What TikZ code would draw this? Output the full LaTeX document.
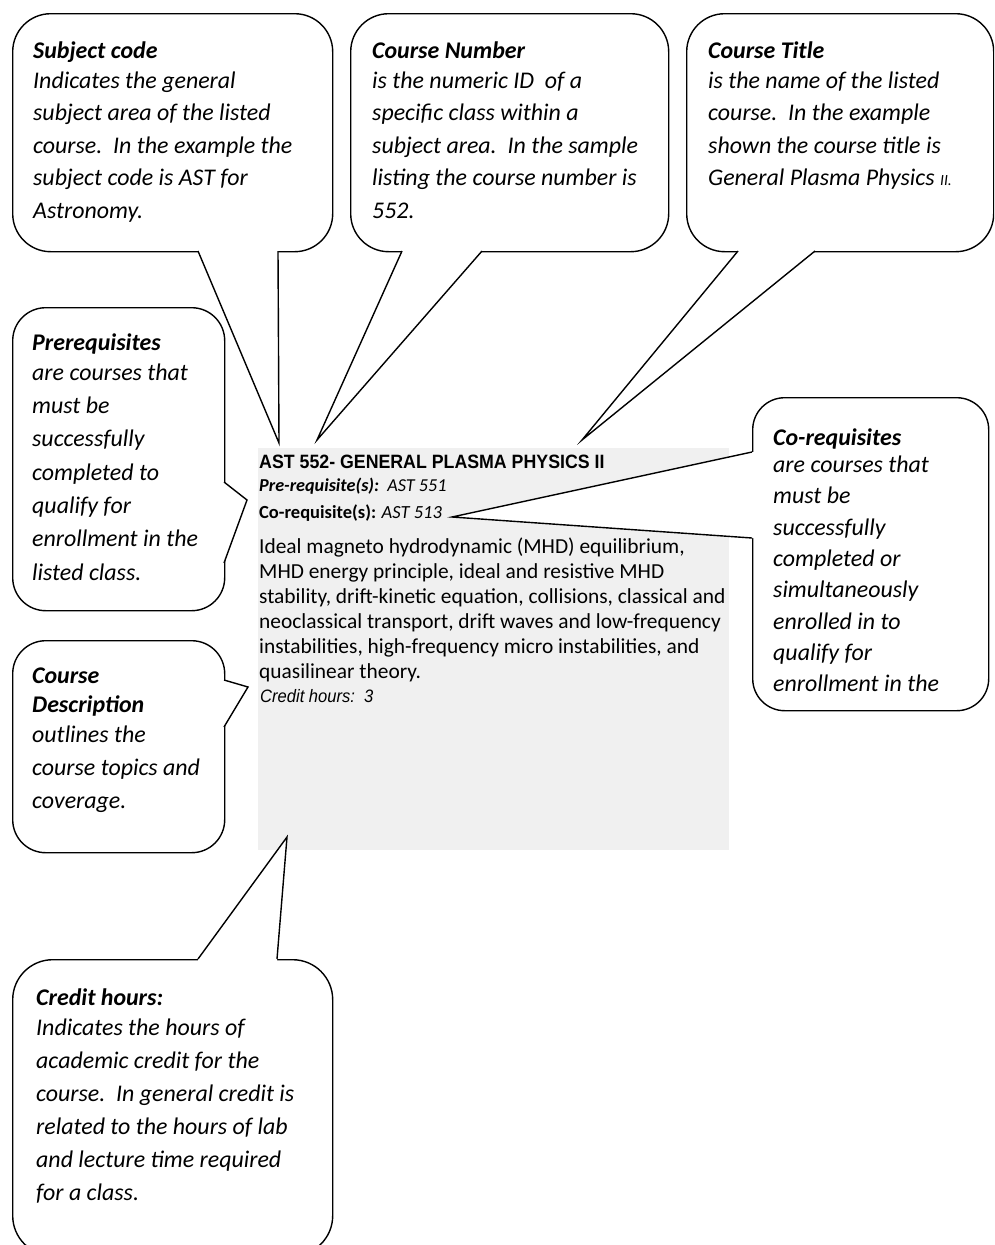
\documentclass[tikz,border=0pt]{standalone}
\usepackage{fontspec}
\setmainfont{Carlito}
\newfontfamily\narrowsans[FakeStretch=0.92]{Liberation Sans}
\usetikzlibrary{calc}
\definecolor{boxgray}{RGB}{240,240,240}
\newcommand{\calltail}[4]{%
  \fill[white] (#1) -- ($(#1)+(#4)$) -- ($(#3)+(#4)$) -- (#3) -- (#2) -- cycle;
  \draw[tailline] (#1) -- (#2) -- (#3);
}
\begin{document}
\begin{tikzpicture}[x=1pt,y=-1pt,
  bubble/.style={draw=black, line width=1.4pt, fill=white, inner sep=0pt, anchor=north west},
  tailline/.style={draw=black, line width=1.4pt, line join=miter, miter limit=20},
  ctext/.style={anchor=north west, inner sep=0pt, align=left, font=\fontsize{23.9}{#1}\selectfont\itshape},
  ctext/.default=32.5
]
\useasboundingbox (0,0) rectangle (994,1245);
\clip (0,0) rectangle (994,1245);

% ---------- course listing ----------
\node[fill=boxgray, inner sep=0pt, minimum width=471pt, minimum height=402pt, anchor=north west] (listing) at (258,448) {};
\node[anchor=base west, inner sep=0pt, font=\narrowsans\bfseries\fontsize{19.3}{22}\selectfont] (title) at (259,468) {AST 552- GENERAL PLASMA PHYSICS II};
\node[anchor=base west, inner sep=0pt, font=\fontsize{18.2}{20}\selectfont] (prereq) at (259,491) {\textbf{\textit{Pre-requisite(s):}}\ \ \textit{AST 551}};
\node[anchor=base west, inner sep=0pt, font=\fontsize{18.5}{20}\selectfont] (coreq) at (259,518) {\textbf{Co-requisite(s):} \textit{AST 513}};
\node[anchor=north west, inner sep=0pt, align=left, font=\fontsize{21.4}{25}\selectfont] (desc) at (259,535) {\rule{0pt}{18pt}Ideal magneto hydrodynamic (MHD) equilibrium,\\
MHD energy principle, ideal and resistive MHD\\
stability, drift-kinetic equation, collisions, classical and\\
neoclassical transport, drift waves and low-frequency\\
instabilities, high-frequency micro instabilities, and\\
quasilinear theory.};
\node[anchor=base west, inner sep=0pt, font=\narrowsans\itshape\fontsize{18}{22}\selectfont] (credit) at (260,702) {Credit hours:\ \ 3};

% ---------- tips ----------
\coordinate (sctip) at (279,443);
\coordinate (cntip) at (317,440);
\coordinate (cttip) at (582,440);
\coordinate (prtip) at (247,500);
\coordinate (cdtip) at (248,687);
\coordinate (cotip) at (452,517);
\coordinate (chtip) at (287,837);

% ---------- Subject code ----------
\node[bubble, rounded corners=38pt, minimum width=320pt, minimum height=238pt] (sc) at (12,13) {};
\calltail{198,251}{sctip}{278,251}{0,-3}
\node[ctext] (sctext) at (33,38) {\rule{0pt}{20pt}\textbf{Subject code}\\[-2.5pt]
Indicates the general\\
subject area of the listed\\
course.\ \ In the example the\\
subject code is AST for\\
Astronomy.};

% ---------- Course Number ----------
\node[bubble, rounded corners=38pt, minimum width=318pt, minimum height=238pt] (cn) at (350,13) {};
\calltail{402,251}{cntip}{482,251}{0,-3}
\node[ctext] (cntext) at (372,38) {\rule{0pt}{20pt}\textbf{Course Number}\\[-2.5pt]
is the numeric ID\ \ of a\\
specific class within a\\
subject area.\ \ In the sample\\
listing the course number is\\
552.};

% ---------- Course Title ----------
\node[bubble, rounded corners=38pt, minimum width=307pt, minimum height=238pt] (ct) at (686,13) {};
\calltail{738,251}{cttip}{815,251}{0,-3}
\node[ctext] (cttext) at (708,38) {\rule{0pt}{20pt}\textbf{Course Title}\\[-2.5pt]
is the name of the listed\\
course.\ \ In the example\\
shown the course title is\\
General Plasma Physics {\fontsize{15.5}{18}\selectfont II.}};

% ---------- Prerequisites ----------
\node[bubble, rounded corners=33pt, minimum width=212pt, minimum height=303pt] (pr) at (12,307) {};
\calltail{224,482}{prtip}{224,563}{-3,0}
\node[ctext=33.3] (prtext) at (32,330) {\rule{0pt}{20pt}\textbf{Prerequisites}\\[-3.3pt]
are courses that\\
must be\\
successfully\\
completed to\\
qualify for\\
enrollment in the\\
listed class.};

% ---------- Course Description ----------
\node[bubble, rounded corners=33pt, minimum width=212pt, minimum height=212pt] (cd) at (12,640) {};
\calltail{224,680}{cdtip}{224,727}{-3,0}
\node[ctext=33] (cdtext) at (32,663) {\rule{0pt}{20pt}\textbf{Course}\\[-4pt]
\textbf{Description}\\[-3pt]
outlines the\\
course topics and\\
coverage.};

% ---------- Co-requisites ----------
\node[bubble, rounded corners=32pt, minimum width=236pt, minimum height=313pt] (co) at (752,397) {};
\calltail{752,452}{cotip}{752,538}{3,0}
\node[ctext=31.3] (cotext) at (773,425) {\rule{0pt}{20pt}\textbf{Co-requisites}\\[-4pt]
are courses that\\
must be\\
successfully\\
completed or\\
simultaneously\\
enrolled in to\\
qualify for\\
enrollment in the};

% ---------- Credit hours ----------
\node[bubble, rounded corners=40pt, minimum width=320pt, minimum height=296pt] (ch) at (12,959) {};
\calltail{198,959}{chtip}{277,959}{0,3}
\node[ctext=33] (chtext) at (36,985) {\rule{0pt}{20pt}\textbf{Credit hours:}\\[-3pt]
Indicates the hours of\\
academic credit for the\\
course.\ \ In general credit is\\
related to the hours of lab\\
and lecture time required\\
for a class.};
\end{tikzpicture}
\end{document}
